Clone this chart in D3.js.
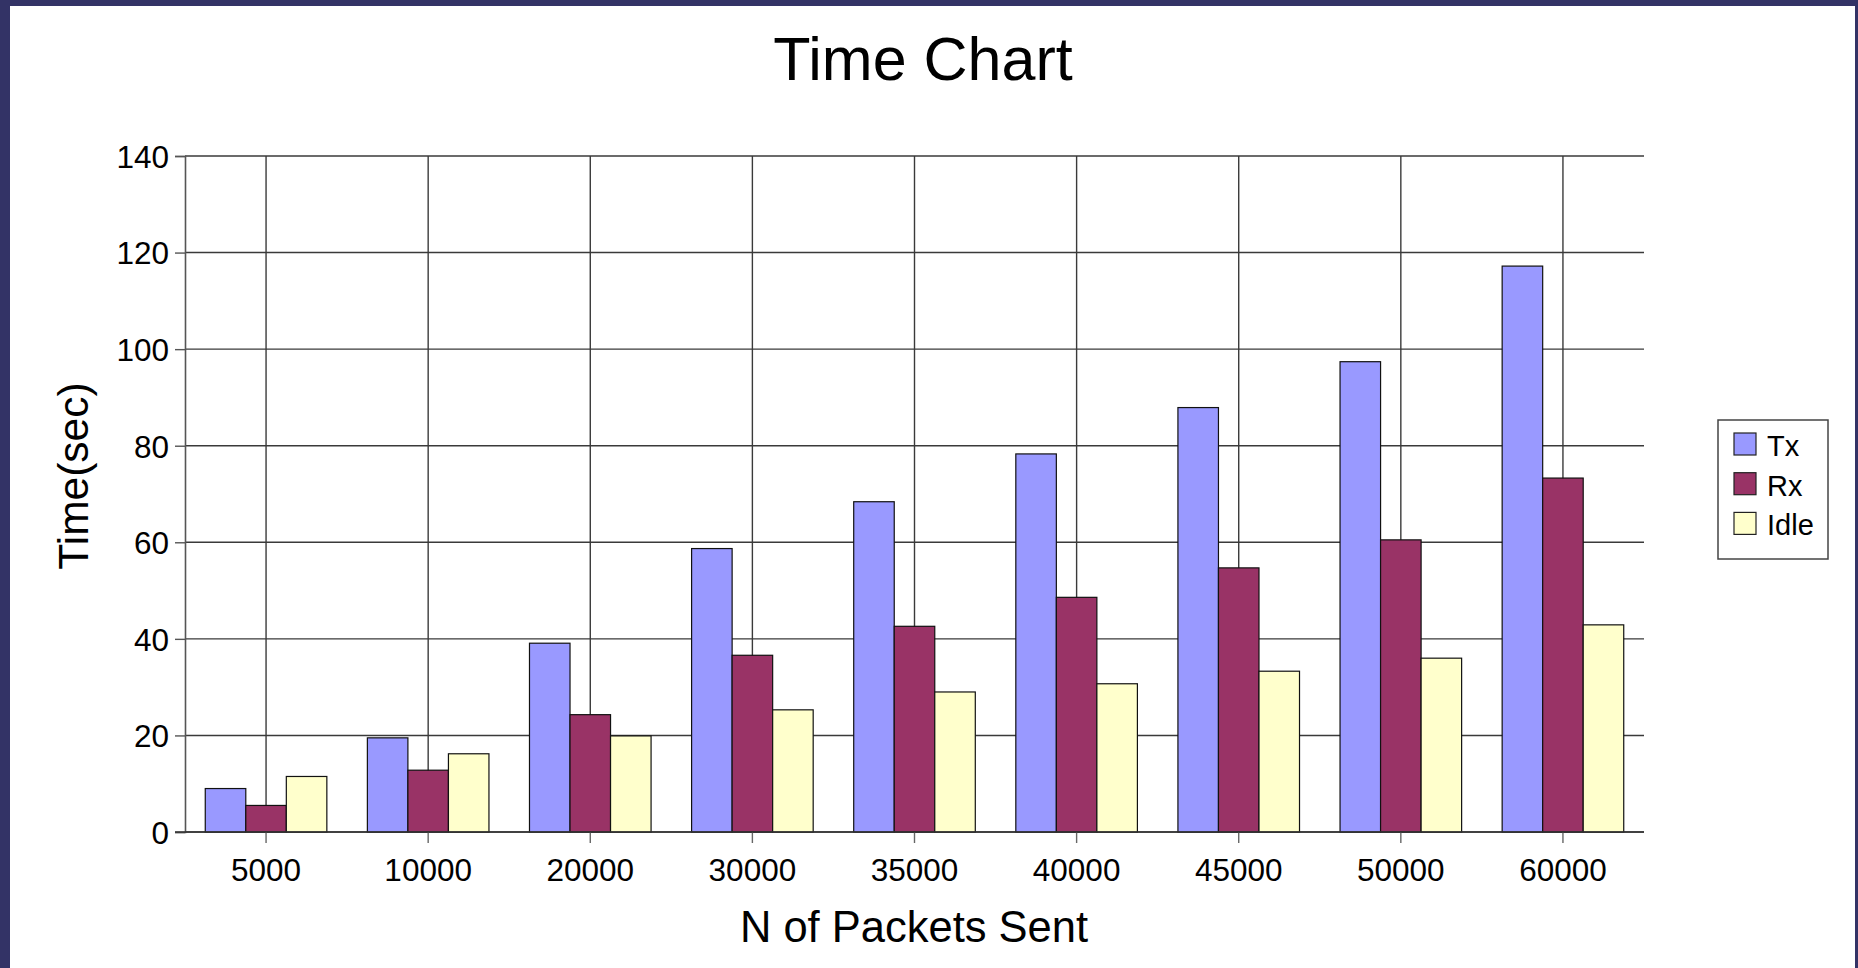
<!DOCTYPE html>
<html>
<head>
<meta charset="utf-8">
<title>Time Chart</title>
<script src="https://cdn.jsdelivr.net/npm/d3@7"></script>
<style>
  html, body { margin: 0; padding: 0; background: #ffffff; }
  svg { display: block; }
  text { font-family: "Liberation Sans", Arial, sans-serif; fill: #000; }
</style>
</head>
<body>
<script>
// Packets sent per run, and time spent in each radio state (seconds)
const categories = ["5000", "10000", "20000", "30000", "35000", "40000", "45000", "50000", "60000"];
const seriesNames = ["Tx", "Rx", "Idle"];
const txValues   = [9.0, 19.5, 39.1, 58.7, 68.4, 78.3, 87.9, 97.4, 117.2];
const rxValues   = [5.5, 12.8, 24.3, 36.6, 42.6, 48.6, 54.7, 60.5, 73.3];
const idleValues = [11.5, 16.2, 19.9, 25.3, 29.0, 30.7, 33.3, 36.0, 42.9];
const yTicks = [0, 20, 40, 60, 80, 100, 120, 140];
const seriesColors = ["#9999ff", "#993366", "#ffffcc"];

const W = 1858, H = 968;
const plot = { left: 185, right: 1644, top: 156, bottom: 832 };

const svg = d3.select("body").append("svg")
  .attr("width", W).attr("height", H);

// frame of the slide
svg.append("rect").attr("x", 0).attr("y", 0).attr("width", W).attr("height", H).attr("fill", "#ffffff");
svg.append("rect").attr("x", 0).attr("y", 0).attr("width", W).attr("height", 6).attr("fill", "#333366");
svg.append("rect").attr("x", 0).attr("y", 0).attr("width", 10).attr("height", H).attr("fill", "#333366");
svg.append("rect").attr("x", W - 3).attr("y", 0).attr("width", 3).attr("height", H).attr("fill", "#333366");

const x = d3.scaleBand().domain(categories).range([plot.left, plot.right]).padding(0);
const inner = d3.scaleBand().domain(seriesNames)
  .range([x.bandwidth() * 0.125, x.bandwidth() * 0.875]).padding(0);
const y = d3.scaleLinear().domain([0, 140]).range([plot.bottom, plot.top]);

const gridColor = "#3a3a3a";

// horizontal gridlines
svg.append("g").selectAll("line").data(yTicks).join("line")
  .attr("x1", plot.left).attr("x2", plot.right)
  .attr("y1", d => y(d)).attr("y2", d => y(d))
  .attr("stroke", gridColor).attr("stroke-width", 1.4);

// vertical gridlines through category centres
svg.append("g").selectAll("line").data(categories).join("line")
  .attr("x1", d => x(d) + x.bandwidth() / 2).attr("x2", d => x(d) + x.bandwidth() / 2)
  .attr("y1", plot.top).attr("y2", plot.bottom)
  .attr("stroke", gridColor).attr("stroke-width", 1.4);

// bars
const series = [txValues, rxValues, idleValues];
const rows = [];
categories.forEach((c, i) => {
  seriesNames.forEach((s, j) => rows.push({ cat: c, name: s, value: series[j][i], color: seriesColors[j] }));
});
svg.append("g").selectAll("rect").data(rows).join("rect")
  .attr("x", d => x(d.cat) + inner(d.name))
  .attr("y", d => y(d.value))
  .attr("width", inner.bandwidth())
  .attr("height", d => y(0) - y(d.value))
  .attr("fill", d => d.color)
  .attr("stroke", "#111")
  .attr("stroke-width", 1.2);

// y axis
const yAxis = d3.axisLeft(y).tickValues(yTicks).tickSize(10).tickPadding(6).tickFormat(d3.format("d"));
const gy = svg.append("g").attr("transform", `translate(${plot.left},0)`).call(yAxis);
gy.select(".domain").attr("stroke", "#555").attr("stroke-width", 1.6);
gy.selectAll(".tick line").attr("stroke", "#555").attr("stroke-width", 1.4);
gy.selectAll(".tick text").style("font-size", "31.5px").attr("font-family", "Liberation Sans, Arial, sans-serif").attr("dy", "0.36em");

// x axis
const xAxis = d3.axisBottom(x).tickSize(11).tickPadding(16);
const gx = svg.append("g").attr("transform", `translate(0,${plot.bottom})`).call(xAxis);
gx.select(".domain").remove();
gx.append("line").attr("x1", plot.left - 10).attr("x2", plot.right).attr("y1", 0).attr("y2", 0)
  .attr("stroke", "#333").attr("stroke-width", 1.6);
gx.selectAll(".tick line").attr("stroke", "#666").attr("stroke-width", 1.4);
gx.selectAll(".tick text").style("font-size", "31.5px").attr("font-family", "Liberation Sans, Arial, sans-serif");

// titles
svg.append("text").attr("x", 923).attr("y", 80).attr("text-anchor", "middle")
  .style("font-size", "61px").text("Time Chart");
svg.append("text").attr("x", 914).attr("y", 942).attr("text-anchor", "middle")
  .style("font-size", "43.5px").text("N of Packets Sent");
svg.append("text").attr("transform", "translate(88,476) rotate(-90)").attr("text-anchor", "middle")
  .style("font-size", "42.5px").text("Time(sec)");

// legend
const lg = svg.append("g");
lg.append("rect").attr("x", 1718).attr("y", 420).attr("width", 110).attr("height", 139)
  .attr("fill", "#fff").attr("stroke", "#444").attr("stroke-width", 1.5);
seriesNames.forEach((s, j) => {
  const yy = 433 + j * 39.7;
  lg.append("rect").attr("x", 1734).attr("y", yy).attr("width", 22).attr("height", 22)
    .attr("fill", seriesColors[j]).attr("stroke", "#222").attr("stroke-width", 1.2);
  lg.append("text").attr("x", 1767).attr("y", yy + 23).style("font-size", "29px").text(s);
});
</script>
</body>
</html>
